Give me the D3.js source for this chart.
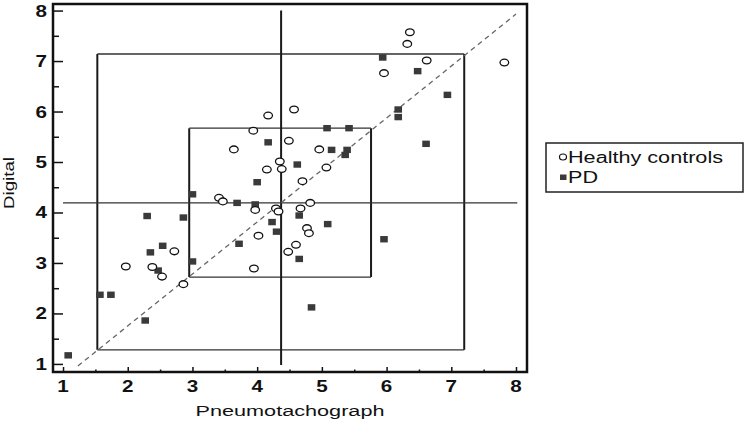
<!DOCTYPE html>

<head>
    <meta charset="utf-8">

    <style>
        body {
            margin: 0;
            background: #fff;
            font-family: 'Liberation Sans', Arial, sans-serif;
        }

        svg {
            position: absolute;
            top: 0;
            left: 0;
        }

        .tick-label {
            font-size: 16.5px;
            font-weight: bold;
            fill: #111;
        }

        .axis-title {
            font-size: 15.5px;
            fill: #111;
        }

        .legend-text {
            font-size: 16px;
            fill: #111;
        }
    </style>

    <script src="https://d3js.org/d3.v7.min.js"></script>
</head>

<body>
    <script>
        ////////////// Data //////////////

        //Healthy controls: [pneumotachograph, digital]
        const healthy = [
            [6.36, 7.57], [6.32, 7.34], [6.62, 7.01], [5.96, 6.76], [7.82, 6.97],
            [4.57, 6.04], [4.17, 5.92], [3.94, 5.62], [4.49, 5.42], [3.64, 5.25],
            [4.96, 5.25], [4.35, 5.01], [4.38, 4.86], [4.15, 4.85], [5.07, 4.89],
            [4.70, 4.62], [3.41, 4.29], [3.47, 4.22], [3.97, 4.05], [4.29, 4.08],
            [4.33, 4.02], [4.67, 4.08], [4.82, 4.19], [4.77, 3.69], [4.80, 3.59],
            [4.02, 3.54], [4.60, 3.36], [4.48, 3.22], [3.95, 2.89], [2.72, 3.23],
            [1.97, 2.93], [2.38, 2.92], [2.53, 2.73], [2.86, 2.58]
        ]

        //PD patients: [pneumotachograph, digital]
        const pd = [
            [5.94, 7.07], [6.48, 6.80], [6.94, 6.33], [6.18, 6.04], [6.18, 5.89],
            [6.61, 5.36], [5.08, 5.67], [5.42, 5.67], [4.17, 5.39], [5.15, 5.24],
            [5.39, 5.24], [5.36, 5.14], [4.62, 4.95], [4.00, 4.60], [3.00, 4.36],
            [3.69, 4.19], [3.97, 4.16], [4.65, 3.94], [4.23, 3.81], [4.30, 3.62],
            [5.09, 3.77], [5.96, 3.47], [3.72, 3.38], [4.65, 3.08], [4.84, 2.12],
            [2.30, 3.93], [2.86, 3.90], [2.54, 3.34], [2.35, 3.21], [2.47, 2.85],
            [3.00, 3.03], [1.57, 2.37], [1.74, 2.37], [2.27, 1.86], [1.08, 1.17]
        ]

        //Mean lines
        const meanX = 4.37
        const meanY = 4.19
        const meanXExtent = [0.98, 8.0] //vertical line, in digital units
        const meanYExtent = [1.0, 8.02] //horizontal line, in pneumotachograph units

        //Boxes: [x0, x1, y0, y1]
        const outerBox = [1.53, 7.20, 1.28, 7.14]
        const innerBox = [2.95, 5.76, 2.72, 5.67]

        //Line of identity
        const identity = [[1.23, 0.96], [8.0, 7.93]]

        const xTicks = [1, 2, 3, 4, 5, 6, 7, 8]
        const yTicks = [1, 2, 3, 4, 5, 6, 7, 8]
        const minorTicks = [1.5, 2.5, 3.5, 4.5, 5.5, 6.5, 7.5]

        const legendLabels = ["Healthy controls", "PD"]

        ////////////// Create the SVG //////////////

        let svg = d3.select("body")
            .append("svg")
            .attr("width", 747)
            .attr("height", 421)

        ////////////// Create scales //////////////

        const x_scale = d3.scaleLinear() //pneumotachograph
            .domain([0.845, 8.17])
            .range([53, 527])

        const y_scale = d3.scaleLinear() //digital
            .domain([0.84, 8.13])
            .range([372, 4])

        const [plotLeft, plotRight] = x_scale.range()
        const [plotBottom, plotTop] = y_scale.range()

        //Text that is stretched sideways, like in the original picture
        function stretchedText(g, x, y, txt, cls, anchor, sx) {
            return g.append("g")
                .attr("transform", "translate(" + x + "," + y + ") scale(" + sx + ",1)")
                .append("text")
                .attr("class", cls)
                .attr("text-anchor", anchor)
                .text(txt)
        }

        ////////////// Reference lines and boxes //////////////

        const boxes = [outerBox, innerBox]
        boxes.forEach(b => {
            //vertical sides thicker than horizontal ones
            svg.append("path")
                .attr("d", "M" + x_scale(b[0]) + "," + y_scale(b[2]) + "V" + y_scale(b[3]) +
                    "M" + x_scale(b[1]) + "," + y_scale(b[2]) + "V" + y_scale(b[3]))
                .attr("stroke", "#1a1a1a")
                .attr("stroke-width", 2)
                .attr("fill", "none")
            svg.append("path")
                .attr("d", "M" + x_scale(b[0]) + "," + y_scale(b[2]) + "H" + x_scale(b[1]) +
                    "M" + x_scale(b[0]) + "," + y_scale(b[3]) + "H" + x_scale(b[1]))
                .attr("stroke", "#333")
                .attr("stroke-width", 1.3)
                .attr("fill", "none")
        })

        //Mean of pneumotachograph
        svg.append("line")
            .attr("x1", x_scale(meanX)).attr("x2", x_scale(meanX))
            .attr("y1", y_scale(meanXExtent[0])).attr("y2", y_scale(meanXExtent[1]))
            .attr("stroke", "#1a1a1a")
            .attr("stroke-width", 2)

        //Mean of digital
        svg.append("line")
            .attr("x1", x_scale(meanYExtent[0])).attr("x2", x_scale(meanYExtent[1]))
            .attr("y1", y_scale(meanY)).attr("y2", y_scale(meanY))
            .attr("stroke", "#333")
            .attr("stroke-width", 1.3)

        //Identity line
        svg.append("line")
            .attr("x1", x_scale(identity[0][0])).attr("y1", y_scale(identity[0][1]))
            .attr("x2", x_scale(identity[1][0])).attr("y2", y_scale(identity[1][1]))
            .attr("stroke", "#666")
            .attr("stroke-width", 1.3)
            .attr("stroke-dasharray", "5,4")

        ////////////// Points //////////////

        svg.selectAll(".pd")
            .data(pd)
            .enter().append("rect")
            .attr("class", "pd")
            .attr("x", d => x_scale(d[0]) - 3.8)
            .attr("y", d => y_scale(d[1]) - 3.2)
            .attr("width", 7.6)
            .attr("height", 6.4)
            .attr("fill", "#3a3a3a")

        svg.selectAll(".healthy")
            .data(healthy)
            .enter().append("ellipse")
            .attr("class", "healthy")
            .attr("cx", d => x_scale(d[0]))
            .attr("cy", d => y_scale(d[1]))
            .attr("rx", 4.3)
            .attr("ry", 3.4)
            .attr("fill", "#fff")
            .attr("stroke", "#111")
            .attr("stroke-width", 1.3)

        ////////////// Axes //////////////

        //Frame
        svg.append("rect")
            .attr("x", plotLeft)
            .attr("y", plotTop)
            .attr("width", plotRight - plotLeft)
            .attr("height", plotBottom - plotTop)
            .attr("fill", "none")
            .attr("stroke", "#111")
            .attr("stroke-width", 2.5)

        //y ticks point inwards
        svg.append("g")
            .attr("transform", "translate(" + plotLeft + ",0)")
            .call(d3.axisRight(y_scale).tickValues(yTicks).tickSize(10).tickFormat(""))
            .call(g => g.select(".domain").remove())
            .selectAll("line").attr("stroke", "#111").attr("stroke-width", 1.5)
        svg.append("g")
            .attr("transform", "translate(" + plotLeft + ",0)")
            .call(d3.axisRight(y_scale).tickValues(minorTicks).tickSize(6).tickFormat(""))
            .call(g => g.select(".domain").remove())
            .selectAll("line").attr("stroke", "#111").attr("stroke-width", 1.5)

        //x ticks point inwards too
        svg.append("g")
            .attr("transform", "translate(0," + plotBottom + ")")
            .call(d3.axisTop(x_scale).tickValues(xTicks).tickSize(5).tickFormat(""))
            .call(g => g.select(".domain").remove())
            .selectAll("line").attr("stroke", "#111").attr("stroke-width", 1.5)
        svg.append("g")
            .attr("transform", "translate(0," + plotBottom + ")")
            .call(d3.axisTop(x_scale).tickValues(minorTicks).tickSize(2.5).tickFormat(""))
            .call(g => g.select(".domain").remove())
            .selectAll("line").attr("stroke", "#111").attr("stroke-width", 1.5)

        //Tick labels
        yTicks.forEach(t => {
            stretchedText(svg, plotLeft - 6, y_scale(t) + 6, t, "tick-label", "end", 1.25)
        })
        xTicks.forEach(t => {
            stretchedText(svg, x_scale(t), plotBottom + 20, t, "tick-label", "middle", 1.25)
        })

        ////////////// Titles //////////////

        svg.append("text")
            .attr("class", "axis-title")
            .attr("x", 290)
            .attr("y", 416)
            .attr("text-anchor", "middle")
            .attr("textLength", 189)
            .attr("lengthAdjust", "spacingAndGlyphs")
            .text("Pneumotachograph")

        svg.append("text")
            .attr("class", "axis-title")
            .attr("transform", "translate(14,183) rotate(-90)")
            .attr("text-anchor", "middle")
            .attr("textLength", 52)
            .attr("lengthAdjust", "spacingAndGlyphs")
            .text("Digital")

        ////////////// Legend //////////////

        let legend = svg.append("g")

        legend.append("rect")
            .attr("x", 546)
            .attr("y", 143)
            .attr("width", 197)
            .attr("height", 49)
            .attr("fill", "#fff")
            .attr("stroke", "#222")
            .attr("stroke-width", 1.5)

        legend.append("ellipse")
            .attr("cx", 563).attr("cy", 157)
            .attr("rx", 3.5).attr("ry", 3)
            .attr("fill", "#fff")
            .attr("stroke", "#111")
            .attr("stroke-width", 1.2)

        legend.append("rect")
            .attr("x", 560).attr("y", 174.5)
            .attr("width", 6.5).attr("height", 5.5)
            .attr("fill", "#3a3a3a")

        legend.selectAll(".legend-text")
            .data(legendLabels)
            .enter().append("text")
            .attr("class", "legend-text")
            .attr("x", 568)
            .attr("y", (d, i) => 163 + i * 20)
            .attr("textLength", (d, i) => i === 0 ? 155 : 30)
            .attr("lengthAdjust", "spacingAndGlyphs")
            .text(d => d)

    </script>
</body>
